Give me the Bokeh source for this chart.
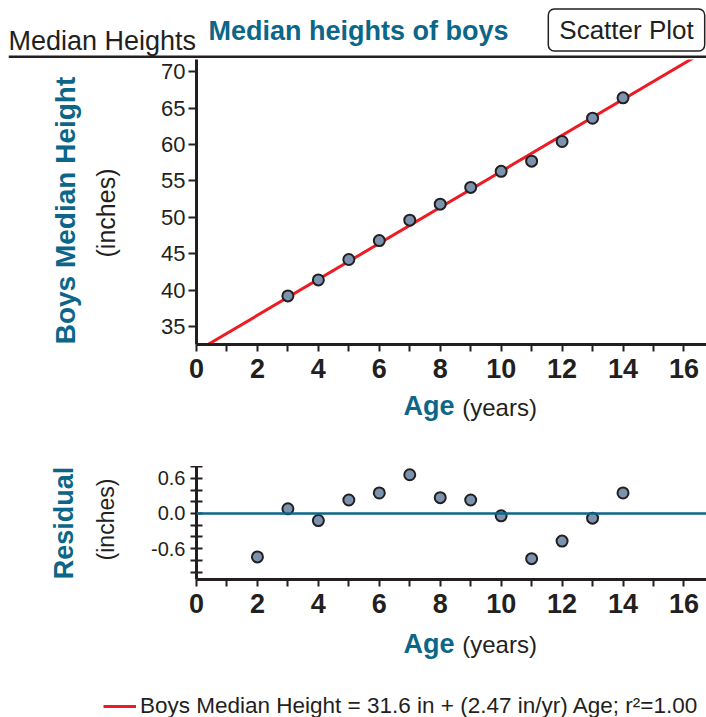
import math
from bokeh.plotting import figure
from bokeh.models import (Range1d, FixedTicker, Label, Span, Legend, LegendItem,
                          NumeralTickFormatter)
from bokeh.layouts import row
from bokeh.embed import file_html
from bokeh.resources import INLINE

# ---------------- data ----------------
ages = [3, 4, 5, 6, 7, 8, 9, 10, 11, 12, 13, 14]
median_heights = [39.2, 41.4, 44.2, 46.8, 49.6, 51.8, 54.1, 56.3, 57.7, 60.4, 63.6, 66.4]

resid_ages = [2, 3, 4, 5, 6, 7, 8, 9, 10, 11, 12, 13, 14]
residuals = [-0.74, 0.08, -0.12, 0.23, 0.35, 0.66, 0.27, 0.23, -0.04, -0.77, -0.47, -0.08, 0.35]

fit_intercept = 31.6
fit_slope = 2.47
fit_x = [0, 17]
fit_y = [fit_intercept + fit_slope * x for x in fit_x]

x_ticks = [0, 2, 4, 6, 8, 10, 12, 14, 16]
x_minor = [1, 3, 5, 7, 9, 11, 13, 15]
y_ticks = [35, 40, 45, 50, 55, 60, 65, 70]
r_ticks = [-0.6, 0.0, 0.6]
r_minor = [-1.0, -0.8, -0.4, -0.2, 0.2, 0.4, 0.8]

legend_text = "Boys Median Height = 31.6 in + (2.47 in/yr) Age; r\u00b2=1.00"

# ---------------- style ----------------
FONT = "Liberation Sans"
TEAL = "#0c6688"
INK = "#231f20"
RED = "#ed1c24"
PT_FILL = "#7b93ae"
W = 706


def text_panel(width, height, x0, x1, y_top, y_bottom, **borders):
    """A bare figure used only to hold texts; data units equal page pixels."""
    f = figure(width=width, height=height, x_range=Range1d(x0, x1),
               y_range=Range1d(y_bottom, y_top), output_backend="svg",
               toolbar_location=None, x_axis_location=None, y_axis_location=None,
               min_border=0, **borders)
    f.grid.visible = False
    f.outline_line_color = None
    return f


def txt(x, y, s, size, color=INK, bold=False, angle=0.0, align="left", **kw):
    return Label(x=x, y=y, text=s, text_font=FONT, text_font_size=size,
                 text_font_style="bold" if bold else "normal", text_color=color,
                 angle=angle, text_align=align, text_baseline="middle", **kw)


# ---------------- header (page y 0-58) ----------------
header = text_panel(W, 58, 8, W, 0, 58, min_border_left=8)
header.add_layout(Span(location=56.5, dimension="width", line_color=INK, line_width=3))
header.add_layout(txt(8, 40.3, "Median Heights", "27px"))
header.add_layout(txt(208, 30, "Median heights of boys", "27px", TEAL, bold=True))
header.add_layout(txt(626, 29.5, "Scatter Plot", "26px", align="center",
                      border_line_color=INK, border_line_width=1.5,
                      border_radius=6, padding=(11, 6)))


def style_x_axis(p):
    ax = p.xaxis[0]
    ax.ticker = FixedTicker(ticks=x_ticks, minor_ticks=x_minor)
    ax.axis_line_width = 3
    ax.axis_line_color = INK
    ax.major_tick_line_color = INK
    ax.minor_tick_line_color = INK
    ax.major_tick_line_width = 2
    ax.minor_tick_line_width = 2
    ax.major_tick_in = 0
    ax.major_tick_out = 7
    ax.minor_tick_in = 0
    ax.minor_tick_out = 7
    ax.major_label_text_font = FONT
    ax.major_label_text_font_size = "27px"
    ax.major_label_text_font_style = "bold"
    ax.major_label_text_color = INK
    ax.major_label_standoff = 7


# ---------------- top scatter plot (page y 58-388, frame 59-344) ----------------
top = figure(width=556, height=330, x_range=Range1d(0, 16.74), y_range=Range1d(32.53, 71.66),
             output_backend="svg", toolbar_location=None,
             min_border_left=46, min_border_right=0, min_border_top=1, min_border_bottom=44)
top.grid.visible = False
top.outline_line_color = None
style_x_axis(top)
ya = top.yaxis[0]
ya.ticker = FixedTicker(ticks=y_ticks, minor_ticks=[])
ya.axis_line_width = 3
ya.axis_line_color = INK
ya.major_tick_line_color = INK
ya.major_tick_line_width = 2
ya.major_tick_in = 0
ya.major_tick_out = 8
ya.minor_tick_line_color = None
ya.major_label_text_font = FONT
ya.major_label_text_font_size = "22px"
ya.major_label_text_color = INK
ya.major_label_standoff = 3

top.line(fit_x, fit_y, line_color=RED, line_width=3)
top.scatter(ages, median_heights, size=11, fill_color=PT_FILL, line_color=INK, line_width=2)

top_lab = text_panel(150, 330, 0, 150, 59, 344, min_border_top=1, min_border_bottom=44)
top_lab.add_layout(txt(65, 210, "Boys Median Height", "28px", TEAL, bold=True,
                       angle=math.pi / 2, align="center"))
top_lab.add_layout(txt(105, 212.5, "(inches)", "25px", angle=math.pi / 2, align="center"))

# ---------------- x title strip (page y 388-466) ----------------
strip1 = text_panel(W, 78, 0, W, 388, 466)
strip1.add_layout(txt(403, 405.7, "Age", "27px", TEAL, bold=True))
strip1.add_layout(txt(461.7, 407.1, "(years)", "24px"))

# ---------------- residual plot (page y 466-623) ----------------
bot = figure(width=566, height=157, x_range=Range1d(0, 16.74), y_range=Range1d(-1.125, 0.801),
             output_backend="svg", toolbar_location=None,
             min_border_left=56, min_border_right=0, min_border_top=0, min_border_bottom=44)
bot.grid.visible = False
bot.outline_line_color = None
style_x_axis(bot)
ra = bot.yaxis[0]
ra.ticker = FixedTicker(ticks=r_ticks, minor_ticks=r_minor)
ra.formatter = NumeralTickFormatter(format="0.0")
ra.axis_line_width = 3
ra.axis_line_color = INK
ra.major_tick_line_color = INK
ra.minor_tick_line_color = INK
ra.major_tick_line_width = 2
ra.minor_tick_line_width = 2
ra.major_tick_in = 6
ra.major_tick_out = 6
ra.minor_tick_in = 6
ra.minor_tick_out = 6
ra.major_label_text_font = FONT
ra.major_label_text_font_size = "20px"
ra.major_label_text_color = INK
ra.major_label_standoff = 5

bot.add_layout(Span(location=0, dimension="width", line_color=TEAL, line_width=2.5))
bot.scatter(resid_ages, residuals, size=11, fill_color=PT_FILL, line_color=INK, line_width=2)

bot_lab = text_panel(140, 157, 0, 140, 466, 579, min_border_top=0, min_border_bottom=44)
bot_lab.add_layout(txt(63, 522.5, "Residual", "27px", TEAL, bold=True,
                       angle=math.pi / 2, align="center"))
bot_lab.add_layout(txt(105.5, 519, "(inches)", "23px", angle=math.pi / 2, align="center"))

# ---------------- x title + legend strip (page y 623-717) ----------------
strip2 = text_panel(W, 94, 0, W, 623, 717)
strip2.add_layout(txt(403, 643, "Age", "27px", TEAL, bold=True))
strip2.add_layout(txt(461.7, 644.4, "(years)", "24px"))
fit_r = strip2.line(fit_x, fit_y, line_color=RED, line_width=3, visible=False)
legend = Legend(items=[LegendItem(label=legend_text, renderers=[fit_r])],
                location=(103, -2), padding=0, margin=0, border_line_color=None,
                background_fill_alpha=0, glyph_width=33, glyph_height=20,
                label_standoff=4, label_text_font=FONT, label_text_font_size="22.5px",
                label_text_color=INK, label_height=20)
strip2.add_layout(legend)

roots = [header, row(top_lab, top, spacing=0), strip1, row(bot_lab, bot, spacing=0), strip2]
open("out.html", "w").write(file_html(roots, INLINE))
